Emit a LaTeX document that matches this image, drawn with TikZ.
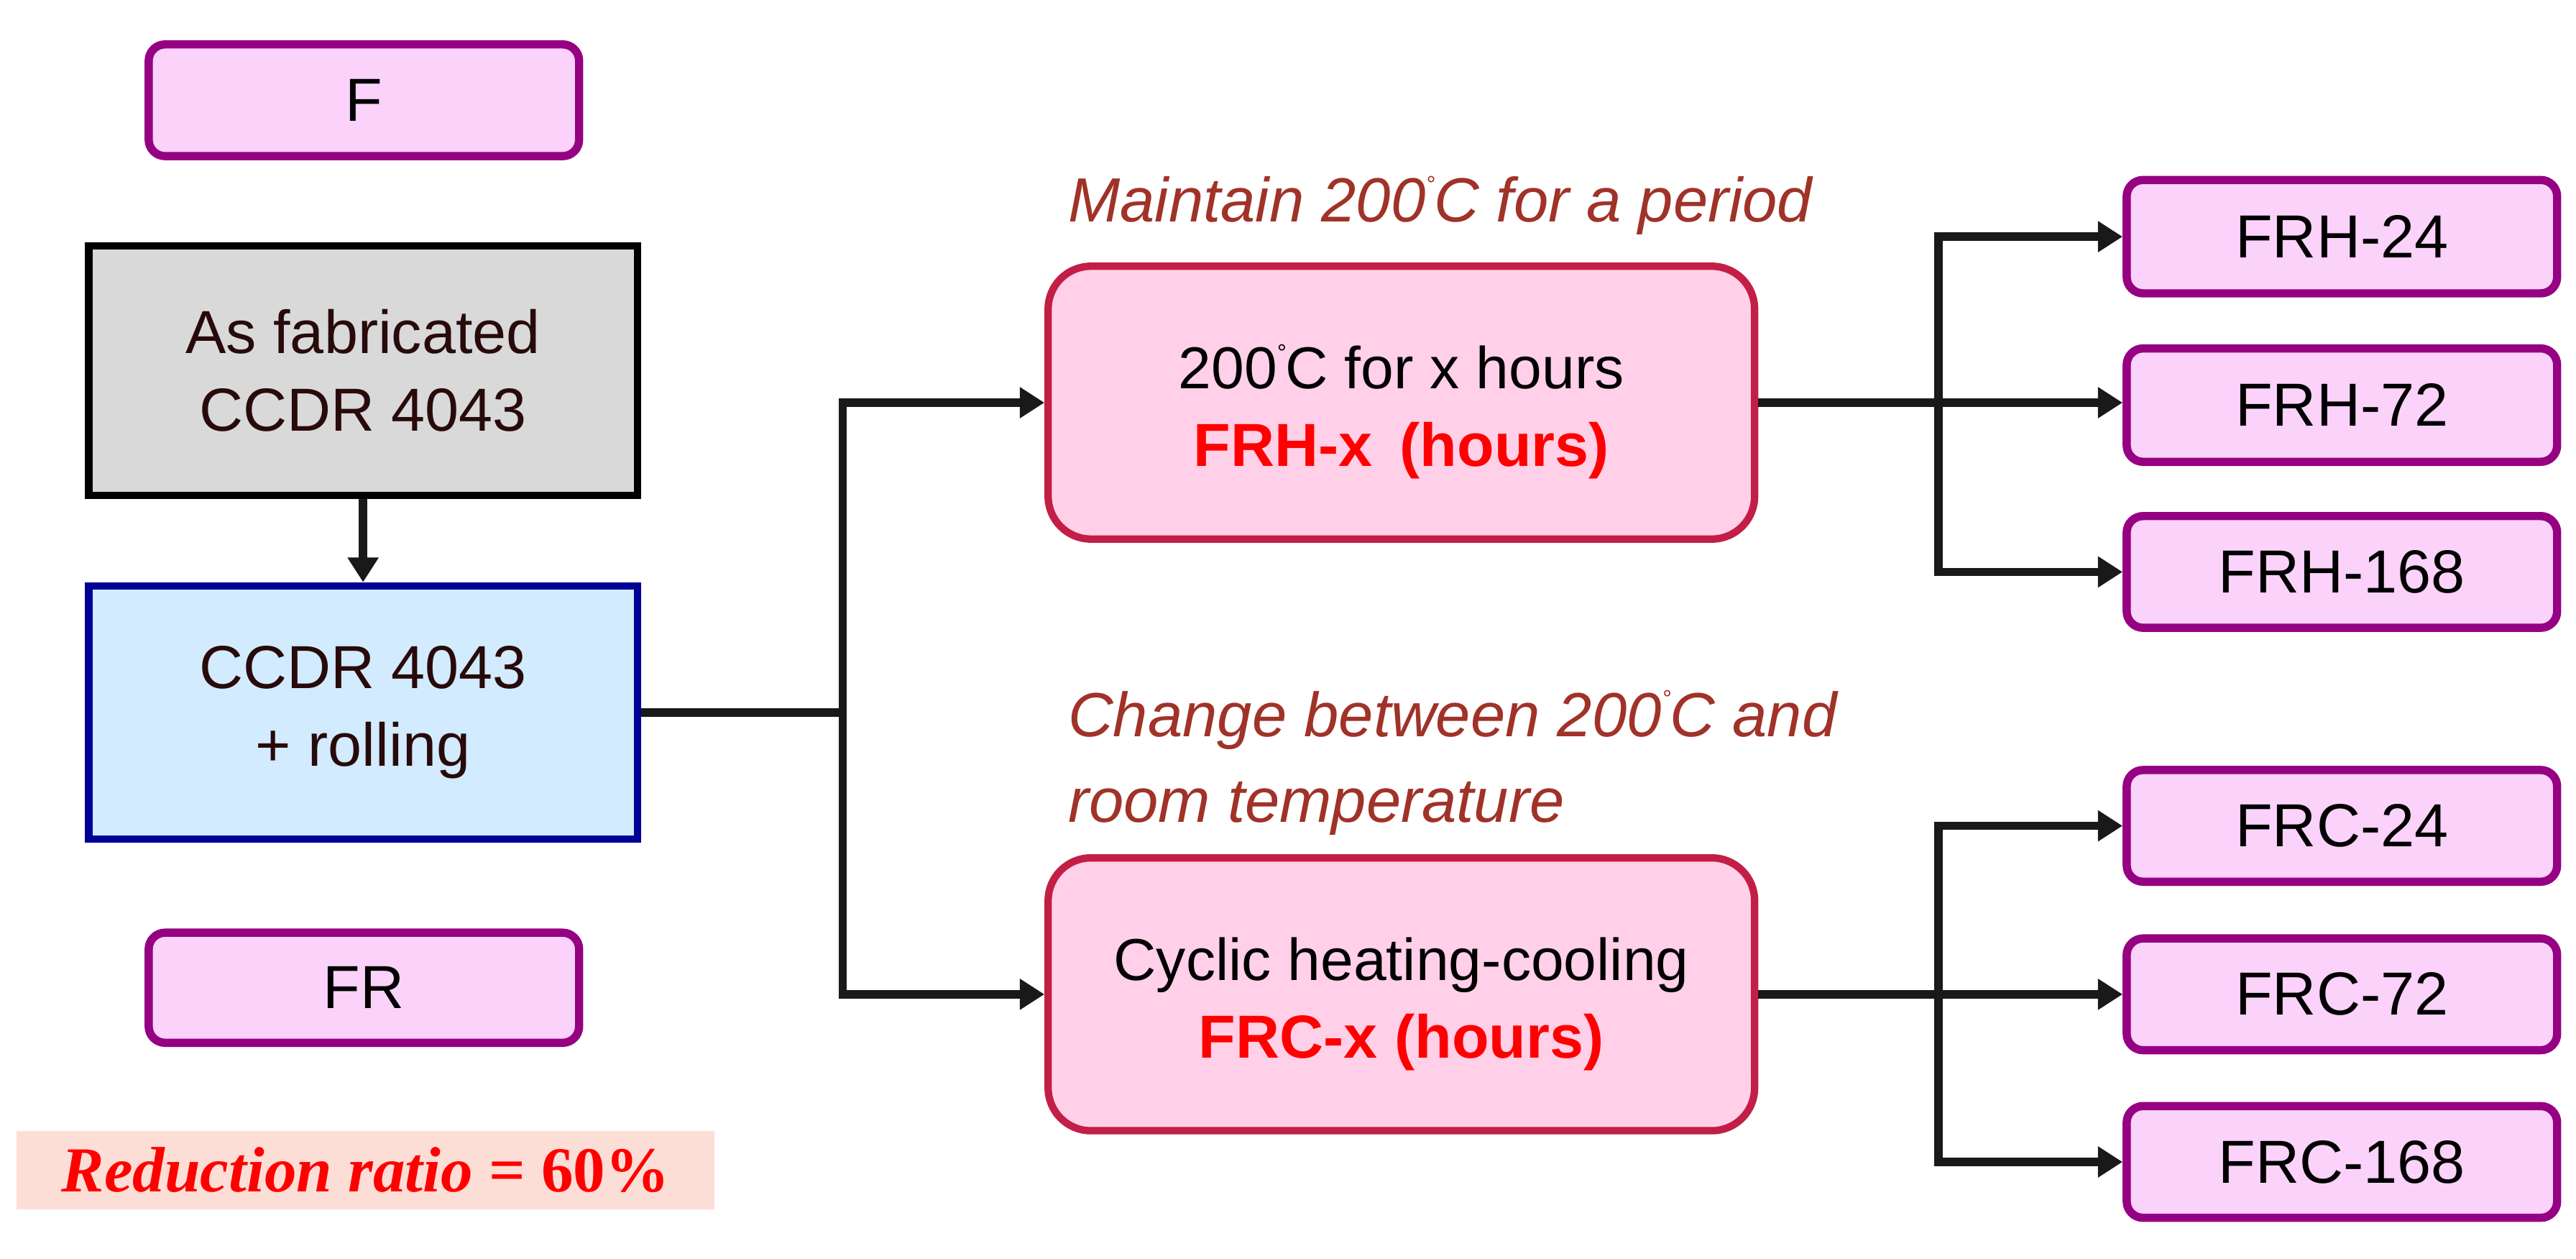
\documentclass[tikz,border=0pt]{standalone}
\usepackage{fontspec}
\setmainfont{Liberation Sans}
\newfontfamily\serifrr{Liberation Serif}
\usetikzlibrary{arrows.meta}
\definecolor{pbord}{RGB}{150,0,130}
\definecolor{pfill}{RGB}{250,210,250}
\definecolor{gfill}{RGB}{217,217,217}
\definecolor{bfill}{RGB}{210,235,255}
\definecolor{bbord}{RGB}{0,0,150}
\definecolor{cbord}{RGB}{195,30,70}
\definecolor{cfill}{RGB}{255,208,232}
\definecolor{lbl}{RGB}{160,50,40}
\definecolor{rrfill}{RGB}{253,222,214}
\definecolor{dtext}{RGB}{40,10,10}
\definecolor{lnc}{RGB}{25,25,25}
\newcommand{\mydegC}{\raisebox{0.48em}{\fontsize{14}{14}\selectfont °}\kern-0.5pt C}
\begin{document}
\begin{tikzpicture}[x=1pt,y=-1pt,
  every node/.style={inner sep=0pt, font=\fontsize{37}{47}\selectfont, align=center},
  sbox/.style={draw=pbord, fill=pfill, line width=5pt, rounded corners=10pt, minimum width=262pt, minimum height=68pt},
  bigbox/.style={draw=cbord, fill=cfill, line width=4.5pt, rounded corners=26pt, minimum width=430pt, minimum height=166pt, font=\fontsize{36}{47}\selectfont},
  sqbox/.style={line width=4.5pt, minimum width=334pt, minimum height=152pt, text=dtext},
  conn/.style={line width=5pt, draw=lnc},
  arr/.style={conn, -{Triangle[length=15pt,width=18pt]}},
  lab/.style={text=lbl, font=\fontsize{38}{52}\selectfont\itshape, anchor=west, align=left},
]
\path[use as bounding box] (0,0) rectangle (1568,766);

% left column
\node[sbox] (F) at (221.5,61) {F};
\node[sqbox, draw=black, fill=gfill] (G) at (221,225.5) {As fabricated\\CCDR 4043};
\node[sqbox, draw=bbord, fill=bfill, minimum height=154pt] (B) at (221,433.5) {CCDR 4043\\+ rolling};
\node[sbox, minimum height=67pt] (FR) at (221.5,601) {FR};
\node[fill=rrfill, minimum width=425pt, minimum height=48pt, text=red,
      font=\fontsize{39}{44}\selectfont\serifrr\bfseries] (RR) at (222.5,712)
      {\itshape Reduction ratio \upshape = 60\%};

% middle boxes
\node[bigbox] (H) at (853,245) {\rule{0pt}{38pt}200\mydegC{} for x hours\\{\fontsize{37}{47}\selectfont\bfseries\color{red}FRH-x\hspace{0.45em}(hours)}};
\node[bigbox] (C) at (853,605) {\rule{0pt}{38pt}Cyclic heating-cooling\\{\fontsize{37}{47}\selectfont\bfseries\color{red}FRC-x (hours)}};

\node[lab] (LH) at (650,125) {Maintain 200\mydegC{} for a period};
\node[lab] (LC) at (650,464) {Change between 200\mydegC{} and\\room temperature};

% right boxes
\node[sbox, minimum height=69pt] (H24) at (1425.5,144) {FRH-24};
\node[sbox, minimum height=69pt] (H72) at (1425.5,246.5) {FRH-72};
\node[sbox] (H168) at (1425.5,348) {FRH-168};
\node[sbox] (C24) at (1425.5,502.5) {FRC-24};
\node[sbox] (C72) at (1425.5,605) {FRC-72};
\node[sbox] (C168) at (1425.5,707) {FRC-168};

% connectors
\draw[arr] (G.south) -- (B.north);
\coordinate (j1) at (513,0);
\coordinate (j2) at (1180,0);
\draw[conn] (B.east) -- (B.east -| j1);
\draw[arr] (B.east -| j1) |- (H.west);
\draw[arr] (B.east -| j1) |- (C.west);

\draw[arr] (H.east) -- (H.east -| H72.west);
\draw[arr] (H.east -| j2) |- (H24.west);
\draw[arr] (H.east -| j2) |- (H168.west);

\draw[arr] (C.east) -- (C72.west);
\draw[arr] (C.east -| j2) |- (C24.west);
\draw[arr] (C.east -| j2) |- (C168.west);
\end{tikzpicture}
\end{document}
